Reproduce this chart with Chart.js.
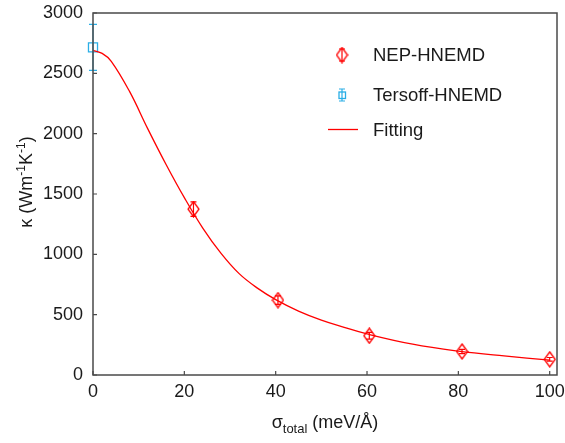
<!DOCTYPE html>
<html>
<head>
<meta charset="utf-8">
<script src="https://cdn.jsdelivr.net/npm/chart.js@4.4.0/dist/chart.umd.min.js"></script>
<style>
  html, body { margin: 0; padding: 0; background: #fff; }
  #wrap { width: 565px; height: 443px; }
</style>
</head>
<body>
<div id="wrap"><canvas id="chart" width="565" height="443"></canvas></div>
<script>
// data
const sigmaNep = [22, 40.5, 60.5, 80.8, 100];
const kappaNep = [1375, 620, 325, 195, 130];
const errNep = [60, 35, 28, 18, 15];

const sigmaTersoff = [0];
const kappaTersoff = [2715];
const errTersoff = [190];

const sigmaFit = [0, 2, 4, 8, 12, 16, 20, 24, 28, 32, 36, 40, 45, 50, 55, 60, 70, 80, 90, 100];
const kappaFit = [2690, 2665, 2600, 2350, 2040, 1745, 1470, 1220, 1010, 840, 720, 625, 530, 455, 395, 340, 255, 198, 158, 124];

const xTicks = [0, 20, 40, 60, 80, 100];
const yTicks = [0, 500, 1000, 1500, 2000, 2500, 3000];

const RED = '#ff0000';
const BLUE = '#2aaee6';
const FONT = '"Liberation Sans", Arial, sans-serif';
const AXIS = '#4a4a4a';

function toPoints(xs, ys) {
  return xs.map((x, i) => ({ x, y: ys[i] }));
}

// tall hollow diamond marker
function makeDiamond(w, h, color) {
  const c = document.createElement('canvas');
  c.width = w + 2;
  c.height = h + 2;
  const g = c.getContext('2d');
  g.strokeStyle = color;
  g.lineWidth = 1.3;
  g.beginPath();
  g.moveTo(c.width / 2, 1);
  g.lineTo(c.width - 1, c.height / 2);
  g.lineTo(c.width / 2, c.height - 1);
  g.lineTo(1, c.height / 2);
  g.closePath();
  g.stroke();
  return c;
}
const diamond = makeDiamond(11, 15, RED);

function errorBar(ctx, x, yTop, yBot, cap, color) {
  ctx.strokeStyle = color;
  ctx.lineWidth = 1.2;
  ctx.beginPath();
  ctx.moveTo(x, yTop); ctx.lineTo(x, yBot);
  ctx.moveTo(x - cap, yTop); ctx.lineTo(x + cap, yTop);
  ctx.moveTo(x - cap, yBot); ctx.lineTo(x + cap, yBot);
  ctx.stroke();
}

const errorBars = {
  id: 'errorBars',
  afterDatasetsDraw(chart) {
    const ctx = chart.ctx;
    const xs = chart.scales.x, ys = chart.scales.y;
    ctx.save();
    chart.data.datasets.forEach(ds => {
      if (!ds.errors) return;
      ds.data.forEach((p, i) => {
        const px = xs.getPixelForValue(p.x);
        errorBar(ctx, px, ys.getPixelForValue(p.y + ds.errors[i]),
          ys.getPixelForValue(p.y - ds.errors[i]), ds.capWidth, ds.borderColor);
      });
    });
    ctx.restore();
  }
};

const frame = {
  id: 'frame',
  afterDraw(chart) {
    const { ctx, chartArea: a } = chart;
    const xs = chart.scales.x, ys = chart.scales.y;
    ctx.save();
    ctx.strokeStyle = AXIS;
    ctx.lineWidth = 1.5;
    ctx.strokeRect(a.left, a.top, a.right - a.left, a.bottom - a.top);
    ctx.lineWidth = 1.2;
    ctx.beginPath();
    yTicks.forEach(v => {
      const y = ys.getPixelForValue(v);
      ctx.moveTo(a.left, y); ctx.lineTo(a.left + 4, y);
    });
    xTicks.forEach(v => {
      const x = xs.getPixelForValue(v);
      ctx.moveTo(x, a.bottom); ctx.lineTo(x, a.bottom - 4);
    });
    ctx.stroke();

    // axis titles with sub/superscripts
    ctx.fillStyle = '#1a1a1a';
    ctx.textBaseline = 'alphabetic';
    const runsX = [['σ', 18, 0], ['total', 13, 5], [' (meV/Å)', 18, 0]];
    drawRuns(ctx, runsX, (a.left + a.right) / 2, 428);

    ctx.translate(32, 182);
    ctx.rotate(-Math.PI / 2);
    const runsY = [['κ (Wm', 18, 0], ['-1', 12, -7], ['K', 18, 0], ['-1', 12, -7], [')', 18, 0]];
    drawRuns(ctx, runsY, 0, 0);
    ctx.restore();

    // legend
    ctx.save();
    ctx.font = '18.5px ' + FONT;
    ctx.fillStyle = '#1a1a1a';
    ctx.textBaseline = 'middle';
    ctx.textAlign = 'left';
    ctx.fillText('NEP-HNEMD', 373, 56);
    ctx.fillText('Tersoff-HNEMD', 373, 96);
    ctx.fillText('Fitting', 373, 131);
    ctx.drawImage(diamond, 342 - diamond.width / 2, 55 - diamond.height / 2);
    errorBar(ctx, 342, 49, 61, 3, RED);
    ctx.strokeStyle = BLUE;
    ctx.lineWidth = 1.3;
    ctx.strokeRect(339, 92, 6.5, 6.5);
    errorBar(ctx, 342, 89, 101, 3, BLUE);
    ctx.strokeStyle = RED;
    ctx.lineWidth = 1.3;
    ctx.beginPath();
    ctx.moveTo(328, 129.5); ctx.lineTo(358, 129.5);
    ctx.stroke();
    ctx.restore();
  }
};

function drawRuns(ctx, runs, cx, baseY) {
  let total = 0;
  runs.forEach(([t, s]) => { ctx.font = s + 'px ' + FONT; total += ctx.measureText(t).width; });
  let x = cx - total / 2;
  ctx.textAlign = 'left';
  runs.forEach(([t, s, dy]) => {
    ctx.font = s + 'px ' + FONT;
    ctx.fillText(t, x, baseY + dy);
    x += ctx.measureText(t).width;
  });
}

new Chart(document.getElementById('chart'), {
  type: 'scatter',
  data: {
    datasets: [
      {
        label: 'Fitting',
        type: 'line',
        data: toPoints(sigmaFit, kappaFit),
        borderColor: RED,
        borderWidth: 1.3,
        pointRadius: 0,
        fill: false,
        tension: 0.4
      },
      {
        label: 'NEP-HNEMD',
        data: toPoints(sigmaNep, kappaNep),
        errors: errNep,
        capWidth: 3,
        borderColor: RED,
        pointStyle: diamond,
        clip: false
      },
      {
        label: 'Tersoff-HNEMD',
        data: toPoints(sigmaTersoff, kappaTersoff),
        errors: errTersoff,
        capWidth: 4,
        borderColor: BLUE,
        backgroundColor: 'rgba(0,0,0,0)',
        borderWidth: 1.3,
        pointStyle: 'rect',
        pointRadius: 6.4,
        clip: false
      }
    ]
  },
  options: {
    animation: false,
    responsive: false,
    layout: { padding: { top: 13, right: 8, left: 0, bottom: 0 } },
    plugins: { legend: { display: false }, tooltip: { enabled: false } },
    scales: {
      x: {
        type: 'linear',
        min: 0,
        max: 101.6,
        afterBuildTicks: s => { s.ticks = xTicks.map(v => ({ value: v })); },
        afterFit: s => { s.height = 68; s.paddingLeft = 0; s.paddingRight = 0; },
        grid: { display: false, drawTicks: false },
        border: { display: false },
        ticks: { padding: 6, color: '#1a1a1a', font: { family: FONT, size: 18 }, callback: v => String(v) }
      },
      y: {
        type: 'linear',
        min: 0,
        max: 3000,
        afterBuildTicks: s => { s.ticks = yTicks.map(v => ({ value: v })); },
        afterFit: s => { s.width = 93; s.paddingTop = 0; s.paddingBottom = 0; },
        grid: { display: false, drawTicks: false },
        border: { display: false },
        ticks: { padding: 10, color: '#1a1a1a', font: { family: FONT, size: 18 }, callback: v => String(v) }
      }
    }
  },
  plugins: [errorBars, frame]
});
</script>
</body>
</html>
